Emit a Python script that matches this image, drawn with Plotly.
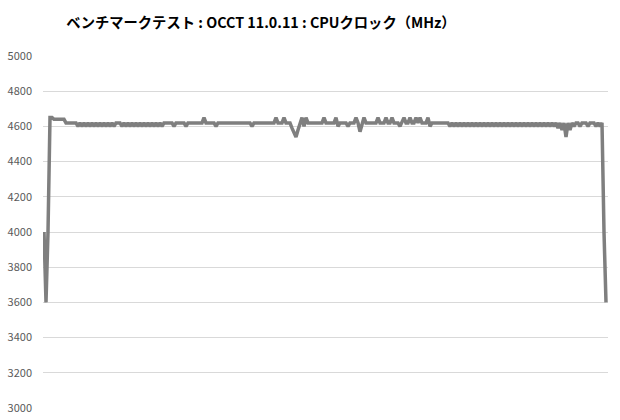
import plotly.graph_objects as go

# CPU clock samples (MHz)
clock = [
    4000, 3600, 4000, 4650, 4650, 4640, 4640, 4640, 4640, 4640,
    4640, 4620, 4620, 4620, 4620, 4620, 4620, 4600, 4620, 4600,
    4620, 4600, 4620, 4600, 4620, 4600, 4620, 4600, 4620, 4600,
    4620, 4600, 4620, 4600, 4620, 4600, 4620, 4620, 4620, 4600,
    4620, 4600, 4620, 4600, 4620, 4600, 4620, 4600, 4620, 4600,
    4620, 4600, 4620, 4600, 4620, 4600, 4620, 4600, 4620, 4600,
    4620, 4620, 4620, 4620, 4620, 4600, 4620, 4620, 4620, 4620,
    4620, 4600, 4620, 4620, 4620, 4620, 4620, 4620, 4620, 4620,
    4650, 4620, 4620, 4620, 4620, 4620, 4600, 4620, 4620, 4620,
    4620, 4620, 4620, 4620, 4620, 4620, 4620, 4620, 4620, 4620,
    4620, 4620, 4620, 4620, 4600, 4620, 4620, 4620, 4620, 4620,
    4620, 4620, 4620, 4620, 4620, 4620, 4650, 4620, 4620, 4620,
    4650, 4620, 4620, 4620, 4590, 4560, 4540, 4580, 4620, 4650,
    4600, 4650, 4620, 4620, 4620, 4620, 4620, 4620, 4620, 4620,
    4650, 4620, 4620, 4620, 4620, 4620, 4650, 4600, 4620, 4620,
    4620, 4620, 4600, 4620, 4620, 4620, 4650, 4620, 4570, 4620,
    4650, 4620, 4620, 4620, 4620, 4620, 4620, 4650, 4620, 4620,
    4620, 4650, 4620, 4620, 4650, 4620, 4620, 4620, 4600, 4620,
    4650, 4620, 4620, 4650, 4620, 4620, 4650, 4620, 4650, 4620,
    4620, 4620, 4650, 4600, 4620, 4620, 4620, 4620, 4620, 4620,
    4620, 4620, 4620, 4600, 4620, 4600, 4620, 4600, 4620, 4600,
    4620, 4600, 4620, 4600, 4620, 4600, 4620, 4600, 4620, 4600,
    4620, 4600, 4620, 4600, 4620, 4600, 4620, 4600, 4620, 4600,
    4620, 4600, 4620, 4600, 4620, 4600, 4620, 4600, 4620, 4600,
    4620, 4600, 4620, 4600, 4620, 4600, 4620, 4600, 4620, 4600,
    4620, 4600, 4620, 4600, 4620, 4600, 4620, 4590, 4620, 4580,
    4620, 4540, 4620, 4580, 4620, 4600, 4620, 4620, 4600, 4620,
    4620, 4620, 4600, 4620, 4620, 4620, 4600, 4620, 4600, 4620,
    4000, 3600,
]
samples = list(range(len(clock)))

y_ticks = [3000, 3200, 3400, 3600, 3800, 4000, 4200, 4400, 4600, 4800, 5000]
title_text = "ベンチマークテスト : OCCT 11.0.11 : CPUクロック（MHz）"

fig = go.Figure()
fig.add_trace(go.Scatter(
    x=samples, y=clock, mode="lines",
    line=dict(color="#7f7f7f", width=3.5),
    hoverinfo="skip", showlegend=False, cliponaxis=False,
))

fig.update_layout(
    width=620, height=420,
    margin=dict(l=43, r=12, t=56, b=12, autoexpand=False),
    paper_bgcolor="white", plot_bgcolor="white",
    font=dict(family="Noto Sans CJK JP, Noto Sans, sans-serif", color="#595959", size=11),
    title=dict(
        text="<b>" + title_text + "</b>",
        x=261 / 620, xanchor="center", xref="container",
        y=1 - 23 / 420, yanchor="middle", yref="container",
        font=dict(size=14.3, color="#000000", family="Noto Sans CJK JP, sans-serif"),
    ),
    xaxis=dict(
        range=[-0.5, len(clock)], showgrid=False, showticklabels=False,
        zeroline=False, showline=False, ticks="", automargin=False,
    ),
    yaxis=dict(
        range=[3000, 5000], tickvals=y_ticks, ticktext=[str(v) for v in y_ticks],
        showgrid=True, gridcolor="#d9d9d9", gridwidth=1, zeroline=False,
        showline=False, ticks="", ticklabelstandoff=10, automargin=False,
        tickfont=dict(size=11, color="#595959"),
    ),
)

fig.write_html(
    "out.html",
    config={"displayModeBar": False},
    post_script="document.body.style.margin='0';document.body.style.overflow='hidden';",
)
